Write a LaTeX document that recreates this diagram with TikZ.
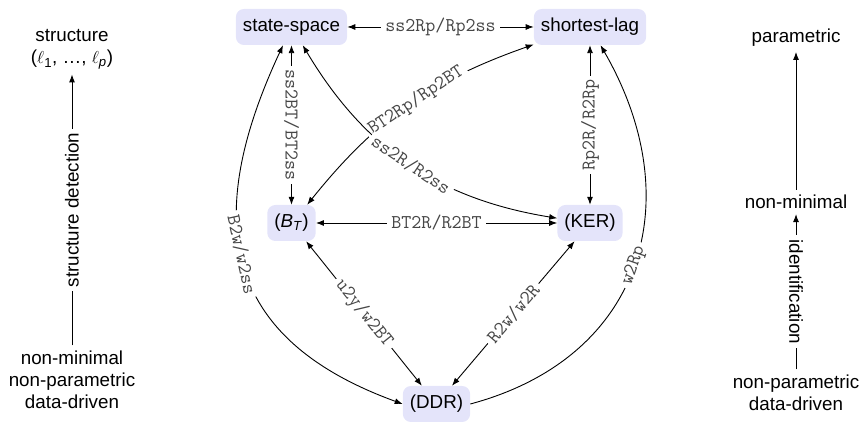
\documentclass[tikz,border=0pt]{standalone}
\usepackage{fontspec}
\setmainfont{Liberation Sans}
\usetikzlibrary{arrows.meta}
\definecolor{boxfill}{RGB}{228,228,250}
\definecolor{lblcol}{RGB}{70,70,70}
\begin{document}
\begin{tikzpicture}[x=1pt,y=1pt,
  >={Latex[length=8pt,width=6pt]},
  every node/.style={font=\fontsize{18.8}{22}\selectfont},
  box/.style={fill=boxfill, rounded corners=8pt, minimum height=36pt, inner xsep=7pt, inner ysep=0pt, text height=13.5pt, text depth=4pt},
  lbl/.style={fill=white, font=\fontsize{19.5}{22}\selectfont\ttfamily, text=lblcol, inner xsep=4pt, inner ysep=0.5pt},
  conn/.style={line width=0.9pt},
  txt/.style={align=center, inner sep=5pt},
  side/.style={fill=white, inner xsep=4pt, inner ysep=2pt}]
\useasboundingbox (0,0) rectangle (861,422);

% main nodes
\node[box] (ss)  at (291.5,395) {state-space};
\node[box] (sl)  at (590,395)   {shortest-lag};
\node[box] (bt)  at (291.5,199) {(\textit{B}\textsubscript{\textit{T}})};
\node[box] (ker) at (590,199)   {(KER)};
\node[box] (ddr) at (436.5,18)  {(DDR)};

% connectors
\draw[conn,<->] (ss) -- node[lbl]{ss2Rp/Rp2ss} (sl);
\draw[conn,<->] (ss) -- node[lbl,rotate=-90]{ss2BT/BT2ss} (bt);
\draw[conn,<->] (sl) -- node[lbl,rotate=90]{Rp2R/R2Rp} (ker);
\draw[conn,<->] (bt) -- node[lbl]{BT2R/R2BT} (ker);
\draw[conn,<->] (bt) to[bend left=16] node[lbl,sloped,pos=0.54]{BT2Rp/Rp2BT} (sl);
\draw[conn,<->] (ss) to[bend right=25] node[lbl,sloped,pos=0.51]{ss2R/R2ss} (ker);
\draw[conn,<->] (bt) -- node[lbl,sloped]{u2y/w2BT} (ddr);
\draw[conn,<->] (ker) -- node[lbl,sloped]{R2w/w2R} (ddr);
\draw[conn,<->] (ss) to[out=245,in=160,looseness=1.3] node[lbl,sloped,pos=0.47]{B2w/w2ss} (ddr.west);
\draw[conn,->] (ddr.east) to[out=15,in=-60,looseness=1.2] node[lbl,sloped,pos=0.5]{w2Rp} (sl);

% left column
\node[txt] (struct) at (72,372.5) {structure\\(\ensuremath{\ell}\textsubscript{1}, \ldots, \ensuremath{\ell}\textsubscript{\textit{p}})};
\node[txt] (lb) at (72,42.5) {non-minimal\\non-parametric\\data-driven};
\draw[conn,->] (lb) -- node[side,rotate=90]{structure detection} (struct);

% right column
\node[txt] (param) at (796,384) {parametric};
\node[txt] (nm) at (796,220) {non-minimal};
\node[txt] (rb) at (796,29.5) {non-parametric\\data-driven};
\draw[conn,->] (nm) -- (param);
\draw[conn,->] (rb) -- node[side,rotate=-90]{identification} (nm);
\end{tikzpicture}
\end{document}
